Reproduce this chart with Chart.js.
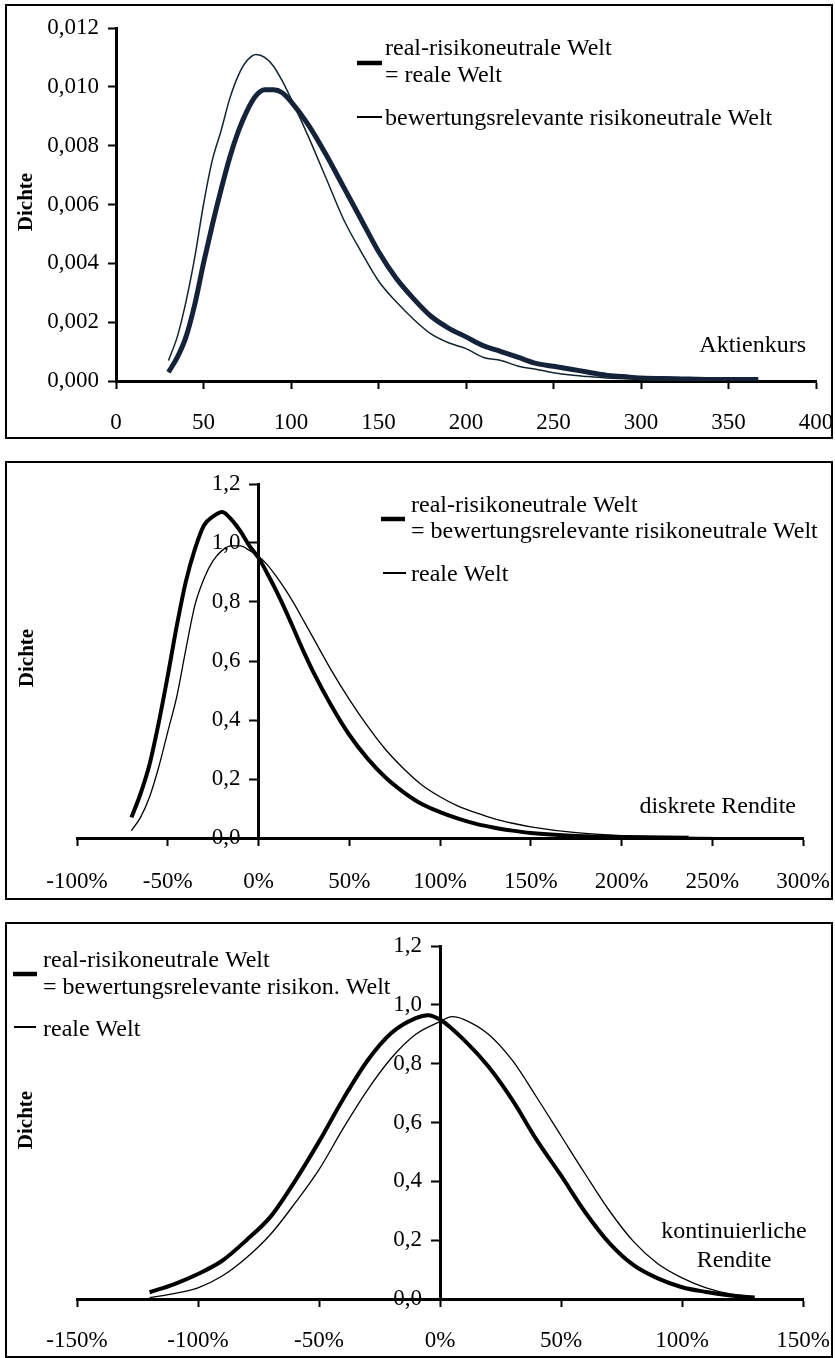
<!DOCTYPE html>
<html>
<head>
<meta charset="utf-8">
<script src="https://cdn.jsdelivr.net/npm/chart.js@4.4.0/dist/chart.umd.min.js"></script>
<style>
  body { margin: 0; background: #fff; }
  .panel { position: absolute; left: 5px; border: 2px solid #000; background: #fff; }
  canvas { display: block; }
</style>
</head>
<body>
<div class="panel" style="top:4px"><canvas id="kurs" width="824" height="431"></canvas></div>
<div class="panel" style="top:461px"><canvas id="diskret" width="824" height="435"></canvas></div>
<div class="panel" style="top:922px"><canvas id="stetig" width="824" height="432"></canvas></div>
<script>
// --- Aktienkurs (panel 1) ---
const kursXReal = [30, 35, 40, 45, 50, 55, 60, 65, 70, 75, 80, 85, 90, 95, 100, 110, 120, 130, 140, 150, 160, 170, 180, 190, 200, 210, 220, 230, 240, 250, 260, 270, 280, 290, 300, 320, 340, 367];
const kursReal = [0.0003, 0.0008, 0.0015, 0.0026, 0.0040, 0.0053, 0.0065, 0.0076, 0.0085, 0.0092, 0.0097, 0.0099, 0.0099, 0.0098, 0.0095, 0.0087, 0.0077, 0.0066, 0.0055, 0.0044, 0.0035, 0.0028, 0.0022, 0.0018, 0.0015, 0.0012, 0.0010, 0.0008, 0.0006, 0.0005, 0.0004, 0.0003, 0.0002, 0.00015, 0.0001, 0.00008, 0.00005, 0.00005];
const kursXBew = [30, 35, 40, 45, 50, 55, 60, 65, 70, 75, 80, 85, 90, 95, 100, 110, 120, 130, 140, 150, 160, 170, 180, 190, 200, 210, 220, 230, 240, 250, 260, 270, 280, 300, 320];
const kursBew = [0.0007, 0.0015, 0.0027, 0.0042, 0.0060, 0.0075, 0.0085, 0.0096, 0.0104, 0.0109, 0.0111, 0.0110, 0.0107, 0.0102, 0.0096, 0.0083, 0.0069, 0.0055, 0.0044, 0.0034, 0.0027, 0.0021, 0.0016, 0.0013, 0.0011, 0.0008, 0.0007, 0.0005, 0.0004, 0.00028, 0.0002, 0.00015, 0.0001, 0.00006, 0.00004];
const kursXTicks = [0, 50, 100, 150, 200, 250, 300, 350, 400];
const kursXLabels = ['0', '50', '100', '150', '200', '250', '300', '350', '400'];
const kursYTicks = [0, 0.002, 0.004, 0.006, 0.008, 0.010, 0.012];
const kursYLabels = ['0,000', '0,002', '0,004', '0,006', '0,008', '0,010', '0,012'];

// --- diskrete Rendite in % (panel 2) ---
const disXRn = [-70, -65, -60, -55, -50, -45, -40, -35, -30, -25, -20, -15, -10, -5, 0, 5, 10, 15, 20, 25, 30, 40, 50, 60, 70, 80, 90, 100, 110, 120, 130, 140, 150, 175, 200, 237];
const disRn = [0.07, 0.15, 0.25, 0.39, 0.55, 0.72, 0.87, 0.98, 1.06, 1.09, 1.105, 1.08, 1.04, 0.99, 0.95, 0.895, 0.835, 0.77, 0.70, 0.63, 0.565, 0.45, 0.35, 0.27, 0.205, 0.155, 0.115, 0.088, 0.066, 0.048, 0.035, 0.025, 0.017, 0.007, 0.003, 0.001];
const disXReal = [-70, -65, -60, -55, -50, -45, -40, -35, -30, -25, -20, -15, -10, -5, 0, 5, 10, 15, 20, 25, 30, 40, 50, 60, 70, 80, 90, 100, 110, 120, 130, 140, 150, 175, 200, 230, 267];
const disReal = [0.025, 0.07, 0.14, 0.24, 0.36, 0.48, 0.64, 0.79, 0.88, 0.94, 0.975, 0.99, 0.99, 0.975, 0.955, 0.925, 0.885, 0.84, 0.79, 0.735, 0.68, 0.57, 0.47, 0.38, 0.30, 0.235, 0.18, 0.14, 0.108, 0.085, 0.065, 0.05, 0.038, 0.018, 0.008, 0.003, 0.001];
const disXTicks = [-100, -50, 0, 50, 100, 150, 200, 250, 300];
const disXLabels = ['-100%', '-50%', '0%', '50%', '100%', '150%', '200%', '250%', '300%'];

// --- kontinuierliche Rendite in % (panel 3) ---
const stXRn = [-120, -110, -100, -90, -80, -70, -60, -50, -40, -30, -20, -10, -5, 0, 10, 20, 30, 40, 50, 60, 70, 80, 90, 100, 110, 120, 130];
const stRn = [0.023, 0.05, 0.085, 0.13, 0.20, 0.28, 0.40, 0.535, 0.68, 0.81, 0.905, 0.955, 0.965, 0.95, 0.88, 0.79, 0.675, 0.54, 0.42, 0.295, 0.19, 0.115, 0.07, 0.04, 0.024, 0.012, 0.005];
const stXReal = [-120, -110, -100, -90, -80, -70, -60, -50, -40, -30, -20, -10, 0, 5, 10, 20, 30, 40, 50, 60, 70, 80, 90, 100, 110, 120, 130];
const stReal = [0.005, 0.018, 0.038, 0.078, 0.14, 0.22, 0.325, 0.44, 0.58, 0.71, 0.82, 0.90, 0.943, 0.96, 0.95, 0.90, 0.81, 0.685, 0.555, 0.425, 0.30, 0.195, 0.12, 0.072, 0.038, 0.017, 0.007];
const stXTicks = [-150, -100, -50, 0, 50, 100, 150];
const stXLabels = ['-150%', '-100%', '-50%', '0%', '50%', '100%', '150%'];

const renditeYTicks = [0, 0.2, 0.4, 0.6, 0.8, 1.0, 1.2];
const renditeYLabels = ['0,0', '0,2', '0,4', '0,6', '0,8', '1,0', '1,2'];

const FONT = "'Liberation Serif', 'Times New Roman', serif";
Chart.defaults.font.family = FONT;
Chart.defaults.font.size = 23;
Chart.defaults.color = '#000';

const pts = (xs, ys) => xs.map((x, i) => ({ x: x, y: ys[i] }));

function line(data, color, width) {
    return {
        data: data,
        borderColor: color,
        borderWidth: width,
        pointRadius: 0,
        fill: false,
        cubicInterpolationMode: 'monotone'
    };
}

function xAxis(min, max, vals, labels, h, pad) {
    return {
        type: 'linear', min: min, max: max,
        border: { color: '#000', width: 3 },
        grid: { drawOnChartArea: false, color: '#000', tickLength: 8, tickWidth: 2 },
        ticks: { color: '#000', padding: pad, maxRotation: 0, autoSkip: false, callback: (v, i) => labels[i] },
        afterBuildTicks: s => { s.ticks = vals.map(v => ({ value: v })); },
        afterFit: s => { s.height = h; s.paddingLeft = 0; s.paddingRight = 0; }
    };
}

// showLabels false: the labels of an axis crossing at x = 0 are drawn by the plugin
function yAxis(max, vals, labels, position, w, showLabels) {
    return {
        type: 'linear', min: 0, max: max, position: position,
        border: { color: '#000', width: 3 },
        grid: { drawOnChartArea: false, color: '#000', tickLength: 8, tickWidth: 2 },
        ticks: { display: showLabels, color: '#000', padding: 9, autoSkip: false, callback: (v, i) => labels[i] },
        afterBuildTicks: s => { s.ticks = vals.map(v => ({ value: v })); },
        afterFit: s => { s.width = w; s.paddingTop = 0; s.paddingBottom = 0; }
    };
}

// legend entries, axis captions, centred y labels and the rotated "Dichte"
const deko = {
    id: 'deko',
    beforeDraw(chart, args, opts) {
        if (!opts.yLabels) return;
        const ctx = chart.ctx;
        const sx = chart.scales.x, sy = chart.scales.y;
        const x0 = sx.getPixelForValue(0) - 18;
        ctx.save();
        ctx.fillStyle = '#000';
        ctx.font = '23px ' + FONT;
        ctx.textAlign = 'right';
        ctx.textBaseline = 'middle';
        sy.ticks.forEach((t, i) => ctx.fillText(opts.yLabels[i], x0, sy.getPixelForValue(t.value)));
        ctx.restore();
    },
    afterDraw(chart, args, opts) {
        const ctx = chart.ctx;
        ctx.save();
        ctx.fillStyle = '#000';
        ctx.strokeStyle = '#000';
        ctx.font = '24px ' + FONT;
        ctx.textBaseline = 'alphabetic';
        (opts.legend || []).forEach(e => {
            ctx.lineWidth = e.w;
            ctx.beginPath();
            ctx.moveTo(e.x1, e.y);
            ctx.lineTo(e.x2, e.y);
            ctx.stroke();
            ctx.textAlign = 'left';
            e.lines.forEach((t, i) => ctx.fillText(t, e.tx, e.ty[i]));
        });
        (opts.texts || []).forEach(t => {
            ctx.textAlign = t.align;
            ctx.fillText(t.text, t.x, t.y);
        });
        ctx.translate(opts.dichte[0], opts.dichte[1]);
        ctx.rotate(-Math.PI / 2);
        ctx.font = 'bold 21px ' + FONT;
        ctx.textAlign = 'center';
        ctx.textBaseline = 'middle';
        ctx.fillText('Dichte', 0, 0);
        ctx.restore();
    }
};

new Chart(document.getElementById('kurs'), {
    type: 'line',
    data: {
        datasets: [
            line(pts(kursXBew, kursBew), '#12252f', 1.5),
            line(pts(kursXReal, kursReal), '#14233a', 5),
            line(pts(kursXReal, kursReal), '#5a7fb0', 1.5)
        ]
    },
    options: {
        responsive: false,
        animation: false,
        layout: { padding: { left: 0, right: 15, top: 22, bottom: 0 } },
        plugins: {
            legend: { display: false },
            tooltip: { enabled: false },
            deko: {
                legend: [
                    { x1: 350, x2: 375, y: 57, w: 4.5, tx: 378, ty: [49, 76], lines: ['real-risikoneutrale Welt', '= reale Welt'] },
                    { x1: 350, x2: 375, y: 111, w: 2, tx: 378, ty: [119], lines: ['bewertungsrelevante risikoneutrale Welt'] }
                ],
                texts: [{ text: 'Aktienkurs', x: 799, y: 346, align: 'right' }],
                dichte: [20, 196]
            }
        },
        scales: {
            x: xAxis(0, 400, kursXTicks, kursXLabels, 56, 20),
            y: yAxis(0.012, kursYTicks, kursYLabels, 'left', 109, true)
        }
    },
    plugins: [deko]
});

new Chart(document.getElementById('diskret'), {
    type: 'line',
    data: {
        datasets: [
            line(pts(disXReal, disReal), '#000', 1.3),
            line(pts(disXRn, disRn), '#000', 4)
        ]
    },
    options: {
        responsive: false,
        animation: false,
        layout: { padding: { left: 70, right: 28, top: 21, bottom: 0 } },
        plugins: {
            legend: { display: false },
            tooltip: { enabled: false },
            deko: {
                yLabels: renditeYLabels,
                legend: [
                    { x1: 374, x2: 398, y: 56, w: 4.5, tx: 404, ty: [49, 75], lines: ['real-risikoneutrale Welt', '= bewertungsrelevante risikoneutrale Welt'] },
                    { x1: 376, x2: 399, y: 110, w: 2, tx: 404, ty: [118], lines: ['reale Welt'] }
                ],
                texts: [{ text: 'diskrete Rendite', x: 789, y: 350, align: 'right' }],
                dichte: [21, 195]
            }
        },
        scales: {
            x: xAxis(-100, 300, disXTicks, disXLabels, 60, 22),
            y: yAxis(1.2, renditeYTicks, renditeYLabels, { x: 0 }, 0, false)
        }
    },
    plugins: [deko]
});

new Chart(document.getElementById('stetig'), {
    type: 'line',
    data: {
        datasets: [
            line(pts(stXReal, stReal), '#000', 1.3),
            line(pts(stXRn, stRn), '#000', 4)
        ]
    },
    options: {
        responsive: false,
        animation: false,
        layout: { padding: { left: 70, right: 28, top: 22, bottom: 0 } },
        plugins: {
            legend: { display: false },
            tooltip: { enabled: false },
            deko: {
                yLabels: renditeYLabels,
                legend: [
                    { x1: 6, x2: 30, y: 50, w: 4.5, tx: 36, ty: [43, 70], lines: ['real-risikoneutrale Welt', '= bewertungsrelevante risikon. Welt'] },
                    { x1: 7, x2: 29, y: 103, w: 2, tx: 36, ty: [112], lines: ['reale Welt'] }
                ],
                texts: [
                    { text: 'kontinuierliche', x: 727, y: 314, align: 'center' },
                    { text: 'Rendite', x: 727, y: 343, align: 'center' }
                ],
                dichte: [20, 196]
            }
        },
        scales: {
            x: xAxis(-150, 150, stXTicks, stXLabels, 57, 20),
            y: yAxis(1.2, renditeYTicks, renditeYLabels, { x: 0 }, 0, false)
        }
    },
    plugins: [deko]
});
</script>
</body>
</html>
